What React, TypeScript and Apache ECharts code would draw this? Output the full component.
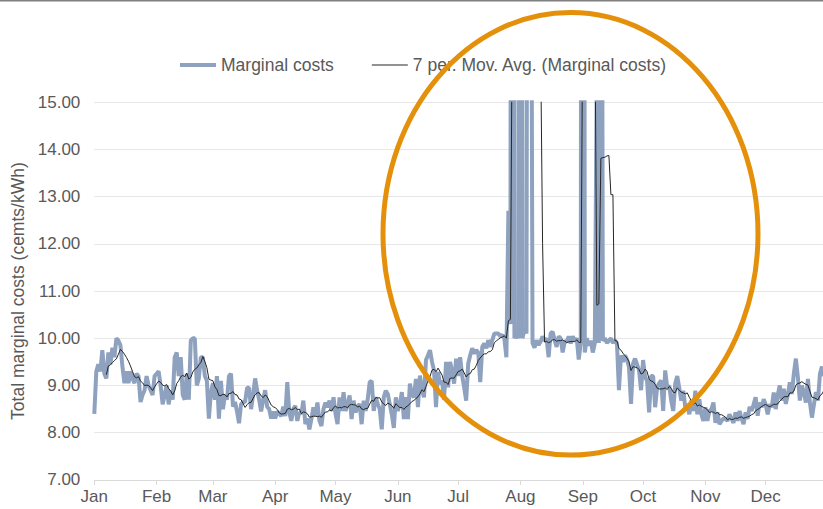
import React, { useEffect, useRef } from "react";
import * as echarts from "echarts";

const monthLabels = ["Jan", "Feb", "Mar", "Apr", "May", "Jun", "Jul", "Aug", "Sep", "Oct", "Nov", "Dec"];
const monthStartDays = [0, 31, 59, 90, 120, 151, 181, 212, 243, 273, 304, 334];
const yTicks = [7, 8, 9, 10, 11, 12, 13, 14, 15];

const jan = [8.4, 9.3, 9.45, 9.3, 9.75, 9.25, 9.15, 9.7, 9.45, 9.8, 9.6, 10.0, 9.95, 9.85, 9.4, 9.05, 9.3, 9.05, 9.3, 9.15, 9.05, 9.25, 9.2, 8.65, 8.8, 8.9, 9.2, 9.0, 8.9, 8.8, 9.2];
const feb = [9.25, 9.3, 9.0, 8.6, 8.8, 9.0, 8.6, 8.9, 8.7, 9.6, 9.7, 9.2, 9.6, 8.8, 8.7, 9.25, 8.7, 9.95, 10.0, 10.0, 9.0, 9.15, 9.6, 9.6, 9.2, 9.1, 8.3, 8.85];
const mar = [9.05, 8.7, 9.2, 8.3, 9.1, 8.5, 8.8, 8.7, 9.2, 9.25, 8.55, 8.65, 8.45, 8.2, 8.6, 8.65, 8.65, 8.95, 8.95, 8.5, 8.8, 9.15, 8.9, 8.7, 8.45, 8.7, 8.9, 8.55, 8.5, 8.3, 8.45];
const apr = [8.3, 8.45, 8.4, 8.35, 8.55, 8.35, 9.07, 8.43, 8.25, 8.5, 8.57, 8.25, 8.43, 8.4, 8.68, 8.18, 8.3, 8.07, 8.29, 8.54, 8.36, 8.64, 8.25, 8.14, 8.5, 8.64, 8.54, 8.68, 8.46, 8.75];
const may = [8.4, 8.18, 8.75, 8.46, 8.86, 8.46, 8.6, 8.79, 8.29, 8.68, 8.43, 8.55, 8.61, 8.18, 8.68, 8.46, 8.7, 9.07, 9.1, 8.46, 8.75, 8.61, 8.5, 8.07, 8.75, 8.89, 8.82, 8.6, 8.39, 8.1, 8.75];
const jun = [8.46, 8.6, 8.86, 8.29, 8.75, 8.29, 9.04, 8.8, 8.75, 9.14, 8.54, 9.21, 8.9, 8.75, 9.54, 9.64, 9.75, 9.5, 9.32, 8.54, 9.29, 9.04, 9.1, 8.7, 9.5, 8.96, 9.5, 9.3, 9.04, 9.57];
const jul = [9.2, 9.6, 9.21, 8.96, 8.68, 9.46, 9.64, 9.79, 9.68, 9.75, 9.7, 9.07, 9.82, 9.89, 9.79, 9.96, 9.82, 9.96, 10.1, 10.1, 10.1, 10.04, 10.07, 10.0, 9.6, 12.7, 10.3, 60, 10.0, 10.1, 10.0];
const aug = [50, 10.0, 10.2, 10.1, 40, 24.6, 9.9, 9.8, 9.96, 9.86, 9.93, 10.04, 9.95, 10.0, 9.6, 10.1, 10.14, 9.96, 9.82, 10.04, 10.0, 9.7, 9.93, 9.93, 10.04, 9.89, 10.04, 9.95, 10.0, 9.55, 9.9];
const sep = [60, 9.7, 10.0, 9.85, 9.95, 9.7, 9.9, 15.8, 9.9, 31.6, 9.95, 10.0, 9.9, 9.95, 10.0, 9.9, 9.95, 9.9, 8.9, 9.64, 9.5, 9.64, 9.55, 9.39, 8.61, 9.46, 9.57, 9.45, 9.32, 8.9];
const oct = [9.54, 9.18, 9.1, 8.43, 9.2, 9.2, 8.54, 8.96, 9.05, 9.11, 8.46, 9.32, 8.96, 9.0, 8.68, 8.46, 9.04, 9.2, 8.95, 8.68, 8.89, 8.54, 8.6, 8.39, 8.68, 8.46, 8.89, 8.39, 8.71, 8.39, 8.25];
const nov = [8.54, 8.25, 8.46, 8.5, 8.64, 8.21, 8.43, 8.18, 8.25, 8.3, 8.29, 8.25, 8.39, 8.3, 8.21, 8.43, 8.25, 8.46, 8.3, 8.18, 8.43, 8.29, 8.55, 8.46, 8.6, 8.75, 8.36, 8.64, 8.54, 8.71];
const dec = [8.6, 8.39, 8.6, 8.54, 8.85, 8.5, 8.8, 9.0, 8.68, 8.93, 8.61, 8.8, 9.07, 8.82, 9.25, 9.57, 9.18, 8.68, 9.0, 8.85, 8.64, 9.14, 8.64, 8.32, 8.6, 8.86, 8.68, 9.25, 9.4, 9.2, 9.3];

const marginalCosts = [...jan, ...feb, ...mar, ...apr, ...may, ...jun, ...jul, ...aug, ...sep, ...oct, ...nov, ...dec];
const dayCategories = marginalCosts.map((_, i) => String(i));

// Trailing 7-period moving average (as in the spreadsheet trendline)
const period = 7;
const movingAverage = marginalCosts.map((_, i) => {
  if (i < period - 1) return null;
  let s = 0;
  for (let k = i - period + 1; k <= i; k++) s += marginalCosts[k];
  return +(s / period).toFixed(3);
});

const FONT = "'Liberation Sans', Arial, sans-serif";
const TXT = "#595959";
const BLUE = "#8EA1BE";
const BLACK = "#262626";

export default function App() {
  const ref = useRef<HTMLDivElement>(null);
  useEffect(() => {
    const chart = echarts.init(ref.current!, null, { renderer: "svg" });
    const isMonthStart = (idx: number) => monthStartDays.indexOf(idx) >= 0;
    chart.setOption({
      animation: false,
      backgroundColor: "#ffffff",
      textStyle: { fontFamily: FONT },
      legend: {
        left: 180,
        top: 56,
        padding: 0,
        itemWidth: 36,
        itemHeight: 14,
        itemGap: 38,
        textStyle: { fontSize: 17.5, color: TXT, fontFamily: FONT },
        data: [
          {
            name: "Marginal costs",
            icon: "path://M0,0H36V4H0Z",
            itemStyle: { color: BLUE, borderWidth: 0 },
          },
          {
            name: "7 per. Mov. Avg. (Marginal costs)",
            icon: "path://M0,0H36V1.2H0Z",
            itemStyle: { color: BLACK, borderWidth: 0 },
          },
        ],
      },
      grid: { left: 94.3, right: 4, top: 102.3, bottom: 29.1 },
      xAxis: {
        type: "category",
        boundaryGap: false,
        data: dayCategories,
        axisLine: { lineStyle: { color: "#d9d9d9", width: 1 } },
        axisTick: {
          show: true,
          length: 5,
          interval: (idx: number) => isMonthStart(idx),
          lineStyle: { color: "#d9d9d9" },
        },
        axisLabel: {
          interval: (idx: number) => isMonthStart(idx),
          formatter: (_v: string, idx: number) => monthLabels[monthStartDays.indexOf(idx)] ?? "",
          fontSize: 17,
          color: TXT,
          margin: 8,
          fontFamily: FONT,
        },
        splitLine: { show: false },
      },
      yAxis: {
        type: "value",
        min: yTicks[0],
        max: yTicks[yTicks.length - 1],
        interval: 1,
        name: "Total marginal costs (cemts/kWh)",
        nameLocation: "middle",
        nameGap: 62,
        nameTextStyle: { fontSize: 17.5, color: TXT, fontFamily: FONT },
        axisLine: { show: false },
        axisTick: { show: false },
        axisLabel: {
          formatter: (v: number) => v.toFixed(2),
          fontSize: 17,
          color: TXT,
          margin: 14,
          fontFamily: FONT,
        },
        splitLine: { lineStyle: { color: "#e7e7e7", width: 1 } },
      },
      series: [
        {
          name: "Marginal costs",
          type: "line",
          data: marginalCosts,
          symbol: "none",
          showSymbol: false,
          clip: true,
          lineStyle: { color: BLUE, width: 4 },
          itemStyle: { color: BLUE },
          z: 2,
        },
        {
          name: "7 per. Mov. Avg. (Marginal costs)",
          type: "line",
          data: movingAverage,
          symbol: "none",
          showSymbol: false,
          clip: true,
          lineStyle: { color: BLACK, width: 1 },
          itemStyle: { color: BLACK },
          z: 3,
        },
      ],
      graphic: [
        {
          type: "rect",
          shape: { x: 0, y: 0, width: 830, height: 1.6 },
          style: { fill: "#808080" },
          z: 100,
        },
        {
          type: "ellipse",
          shape: { cx: 570.5, cy: 233.8, rx: 187.5, ry: 221.3 },
          style: { fill: "none", stroke: "#E5900B", lineWidth: 5 },
          z: 100,
        },
      ],
    });
    return () => chart.dispose();
  }, []);
  return (
    <div style={{ position: "fixed", left: 0, top: 0, width: 823, height: 509, overflow: "hidden", background: "#fff" }}>
      <div ref={ref} style={{ width: 830, height: 509 }} />
    </div>
  );
}
